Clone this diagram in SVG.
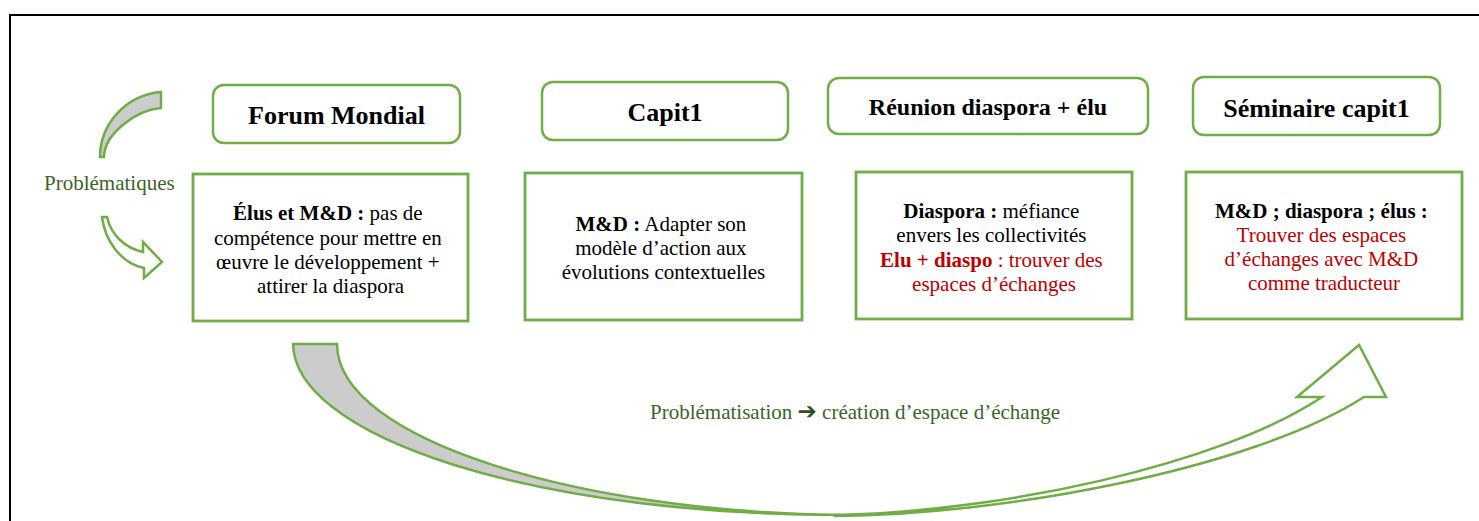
<svg xmlns="http://www.w3.org/2000/svg" width="1479" height="521" viewBox="0 0 1479 521">
<style>
.hdr{fill:#fff;stroke:#70AD47;stroke-width:2.5}
.body{fill:#fff;stroke:#70AD47;stroke-width:2.8}
.ht{font-family:"Liberation Serif","Times New Roman",serif;font-weight:bold;fill:#000;text-anchor:middle}
.bt{font-family:"Liberation Serif","Times New Roman",serif;font-size:21px;fill:#000;text-anchor:middle}
.b{font-weight:bold}
.red{fill:#C00000}
.gt{font-family:"Liberation Serif","Times New Roman",serif;font-size:21px;fill:#3B6427}
.gray{fill:#CCCCCC;stroke:#70AD47;stroke-width:2.5;stroke-linejoin:miter}
.white{fill:#fff;stroke:#70AD47;stroke-width:2.5;stroke-linejoin:miter}
</style>
<rect width="1479" height="521" fill="#fff"/>
<path d="M10,521 V15 H1479" fill="none" stroke="#000" stroke-width="2"/>

<g id="connectors">
  <g id="problematiques-arrow">
    <path class="gray" d="M100,157 C100,125 125,95 161,92 L161,108 C135,110 104,135 104,157 Z"/>
    <path class="white" d="M102,217 C105,240 120,263 144,268 L144,278 L162,262 L143,242 L143,252 C125,248 111,235 107,217 Z"/>
  </g>
  <g id="big-arrow">
    <path class="gray" d="M293,344 L337,344 C337,440 580,512 840,515 A547,172 0 0 1 293,344 Z"/>
    <path class="white" d="M835,516 C1000,515 1250,470 1364,397 L1386,397 L1359,345 L1297,397 L1322,397 C1220,465 1000,512 835,515 Z"/>
  </g>
</g>

<g id="label-problematiques">
  <text class="gt" x="44" y="190">Problématiques</text>
</g>
<g id="label-problematisation">
  <text class="gt" x="650" y="419">Problématisation <tspan style="font-family:'DejaVu Sans',sans-serif;font-size:23px;font-weight:bold" fill="#2F5020">➔</tspan> création d’espace d’échange</text>
</g>

<g id="forum-mondial">
  <rect class="hdr" x="213" y="85" width="247" height="58" rx="11"/>
  <text class="ht" x="336.5" y="124" font-size="26">Forum Mondial</text>
</g>
<g id="forum-mondial-body">
  <rect class="body" x="193" y="174" width="275" height="147"/>
  <text class="bt">
    <tspan x="330.5" y="220"><tspan class="b">Élus et M&amp;D :</tspan> pas de</tspan>
    <tspan x="330.5" y="244.5">compétence pour mettre en</tspan>
    <tspan x="330.5" y="269">œuvre le développement +</tspan>
    <tspan x="330.5" y="293">attirer la diaspora</tspan>
  </text>
</g>

<g id="capit1">
  <rect class="hdr" x="542" y="82" width="246" height="58" rx="11"/>
  <text class="ht" x="665" y="121" font-size="26">Capit1</text>
</g>
<g id="capit1-body">
  <rect class="body" x="525" y="173" width="277" height="147"/>
  <text class="bt">
    <tspan x="663.5" y="231"><tspan class="b">M&amp;D :</tspan> Adapter son</tspan>
    <tspan x="663.5" y="255">modèle d’action aux</tspan>
    <tspan x="663.5" y="279">évolutions contextuelles</tspan>
  </text>
</g>

<g id="reunion">
  <rect class="hdr" x="828" y="78" width="320" height="56" rx="11"/>
  <text class="ht" x="988" y="115" font-size="24">Réunion diaspora + élu</text>
</g>
<g id="reunion-body">
  <rect class="body" x="856" y="172" width="276" height="147"/>
  <text class="bt">
    <tspan x="994" y="218"><tspan class="b">Diaspora :</tspan> méfiance</tspan>
    <tspan x="994" y="242">envers les collectivités</tspan>
    <tspan x="994" y="267" class="red"><tspan class="b">Elu + diaspo</tspan> : trouver des</tspan>
    <tspan x="994" y="291" class="red">espaces d’échanges</tspan>
  </text>
</g>

<g id="seminaire">
  <rect class="hdr" x="1193" y="77" width="247" height="58" rx="11"/>
  <text class="ht" x="1316.5" y="117" font-size="26">Séminaire capit1</text>
</g>
<g id="seminaire-body">
  <rect class="body" x="1186" y="172" width="276" height="147"/>
  <text class="bt">
    <tspan x="1324" y="218" class="b">M&amp;D ; diaspora ; élus :</tspan>
    <tspan x="1324" y="242" class="red">Trouver des espaces</tspan>
    <tspan x="1324" y="266" class="red">d’échanges avec M&amp;D</tspan>
    <tspan x="1324" y="290" class="red">comme traducteur</tspan>
  </text>
</g>
</svg>
